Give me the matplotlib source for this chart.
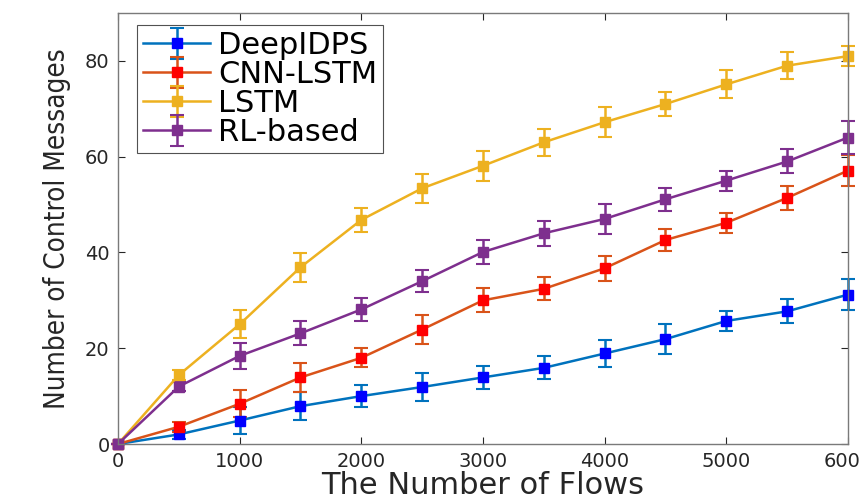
import matplotlib
matplotlib.use("Agg")
import matplotlib.pyplot as plt
from matplotlib import font_manager

flows = [0, 500, 1000, 1500, 2000, 2500, 3000, 3500, 4000, 4500, 5000, 5500, 6000]

deepidps = [0, 2.0, 4.9, 7.9, 10.0, 11.9, 13.9, 15.9, 18.9, 21.9, 25.7, 27.7, 31.2]
deepidps_err = [0, 0.9, 2.8, 2.9, 2.3, 3.0, 2.4, 2.4, 2.8, 3.1, 2.1, 2.5, 3.2]

cnn_lstm = [0, 3.6, 8.4, 13.9, 18.0, 23.9, 30.0, 32.4, 36.7, 42.6, 46.2, 51.4, 57.1]
cnn_lstm_err = [0, 1.0, 2.8, 3.0, 2.0, 3.0, 2.5, 2.4, 2.6, 2.4, 2.1, 2.5, 3.2]

lstm = [0, 14.4, 25.0, 36.9, 46.8, 53.4, 58.1, 63.0, 67.2, 71.0, 75.1, 79.0, 81.0]
lstm_err = [0, 1.0, 2.9, 3.0, 2.5, 3.0, 3.1, 2.8, 3.1, 2.5, 2.9, 2.8, 2.1]

rl_based = [0, 12.0, 18.4, 23.1, 28.1, 34.0, 40.1, 44.0, 47.0, 51.1, 55.0, 59.0, 64.0]
rl_based_err = [0, 1.0, 2.7, 2.5, 2.4, 2.3, 2.5, 2.6, 3.1, 2.4, 2.1, 2.5, 3.4]

labels = ["DeepIDPS", "CNN-LSTM", "LSTM", "RL-based"]
line_colors = ["#0072BD", "#D95319", "#EDB120", "#7E2F8E"]
marker_colors = ["#0000FF", "#FF0000", "#EDB120", "#7E2F8E"]

xticks = [0, 1000, 2000, 3000, 4000, 5000, 6000]
yticks = [0, 20, 40, 60, 80]

# look for a condensed sans face for the (visually condensed) y label
cands = []
for f in font_manager.fontManager.ttflist:
    nm = f.name.lower()
    st = str(f.stretch).lower()
    if ("condensed" in nm or "narrow" in nm or "condensed" in st) and f.style == "normal":
        w = f.weight if isinstance(f.weight, int) else 400
        cands.append((abs(w - 400), "extra" in st or "ultra" in st, f.fname))
if cands:
    cands.sort()
    ylab_font = font_manager.FontProperties(fname=cands[0][2], size=20)
else:
    ylab_font = font_manager.FontProperties(family="DejaVu Sans", size=18)

fig = plt.figure(figsize=(8.62, 5.03), dpi=100)
ax = fig.add_axes([118/862, 59/503, 730/862, 431/503])

series = [deepidps, cnn_lstm, lstm, rl_based]
errs = [deepidps_err, cnn_lstm_err, lstm_err, rl_based_err]
for ys, es, lab, lc, mc in zip(series, errs, labels, line_colors, marker_colors):
    ax.errorbar(flows, ys, yerr=es, color=lc, ecolor=lc, elinewidth=1.8,
                capsize=5, capthick=1.5, lw=1.8, marker="s", markersize=6.5,
                markerfacecolor=mc, markeredgecolor=mc, label=lab, clip_on=False)

ax.set_xlim(0, 6000)
ax.set_ylim(0, 90)
ax.set_xticks(xticks)
ax.set_yticks(yticks)
ax.tick_params(direction="in", top=True, right=True, length=5, width=0.8,
               colors="#262626", labelsize=14, pad=6)
for sp in ax.spines.values():
    sp.set_color("#7a7a7a")
    sp.set_linewidth(1.0)

ax.set_xlabel("The Number of Flows", fontsize=22, color="#262626", labelpad=0)
ax.set_ylabel("Number of Control Messages", fontproperties=ylab_font,
              color="#262626", labelpad=10)

leg = ax.legend(loc="upper left", bbox_to_anchor=(0.026, 0.972), fontsize=22,
                frameon=True, fancybox=False, edgecolor="#262626",
                handlelength=2.2, handletextpad=0.25, borderpad=0.2,
                labelspacing=0.0, borderaxespad=0)
leg.get_frame().set_linewidth(0.8)

fig.savefig("out.png", dpi=100)
